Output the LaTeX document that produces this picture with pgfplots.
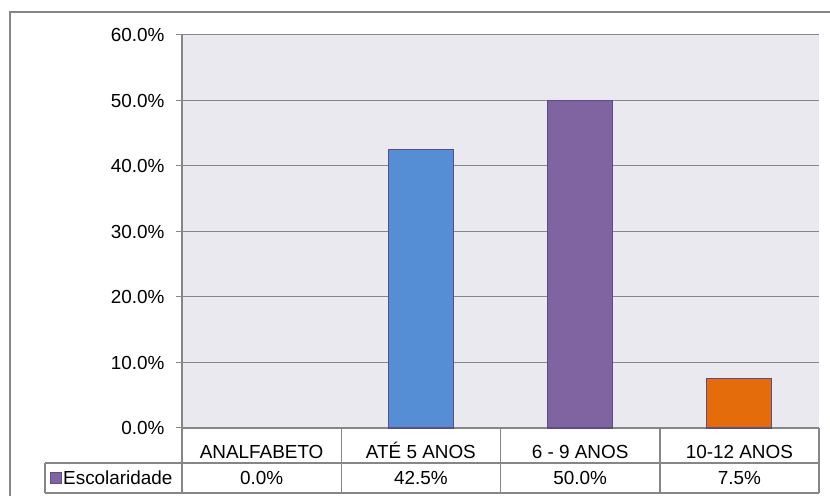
\documentclass[border=0pt]{standalone}
\usepackage{pgfplots}
\pgfplotsset{compat=1.18}
\usepackage{fontspec}
\setmainfont{Liberation Sans}
\definecolor{bg}{RGB}{235,233,240}
\definecolor{gridc}{RGB}{134,134,134}
\definecolor{cblue}{RGB}{85,142,213}
\definecolor{cpurp}{RGB}{128,100,162}
\definecolor{corange}{RGB}{228,108,10}
\definecolor{edge}{RGB}{94,76,138}
\begin{document}
\begin{tikzpicture}[font=\fontsize{18.9bp}{22bp}\selectfont]
\useasboundingbox (0,0) rectangle (830bp,496bp);
\begin{axis}[
  at={(182bp,68bp)}, anchor=south west,
  scale only axis, width=637bp, height=393bp,
  xmin=-0.5, xmax=3.5, ymin=0, ymax=60,
  axis background/.style={fill=bg},
  axis x line*=bottom, axis y line*=left,
  axis line style={gridc, line width=1.5bp, -},
  ytick={0,10,...,60},
  ymajorgrids, grid style={gridc, line width=1bp},
  /pgf/number format/assume math mode=true,
  yticklabel={\pgfmathprintnumber[fixed,fixed zerofill,precision=1]{\tick}\%},
  tick align=outside, major tick length=6bp,
  ytick style={gridc, line width=1bp},
  xtick={0,1,2,3},
  xticklabels={ANALFABETO,ATÉ 5 ANOS,6 - 9 ANOS,10-12 ANOS},
  xtick style={draw=none},
  xticklabel style={anchor=base, yshift=-24bp},
  yticklabel style={xshift=-8bp},
  ybar, bar width=65bp,
  clip=false,
]
\addplot[bar shift=0pt, draw=none, fill=none] coordinates {(0,0)};
\addplot[bar shift=0pt, fill=cblue, draw=edge, line width=1.2bp] coordinates {(1,42.5)};
\addplot[bar shift=0pt, fill=cpurp, draw=edge, line width=1.2bp] coordinates {(2,50.0)};
\addplot[bar shift=0pt, fill=corange, draw=edge, line width=1.2bp] coordinates {(3,7.5)};
\node[anchor=base] at (axis cs:0,0) [yshift=-56.5bp] {0.0\%};
\node[anchor=base] at (axis cs:1,0) [yshift=-56.5bp] {42.5\%};
\node[anchor=base] at (axis cs:2,0) [yshift=-56.5bp] {50.0\%};
\node[anchor=base] at (axis cs:3,0) [yshift=-56.5bp] {7.5\%};
\end{axis}
\begin{scope}[gridc, line width=1.5bp]
\draw (45bp,33bp) -- (819bp,33bp);
\draw (45bp,3bp) -- (819bp,3bp);
\draw (45bp,33bp) -- (45bp,3bp);
\draw (182bp,68bp) -- (182bp,3bp);
\draw (341.25bp,68bp) -- (341.25bp,3bp);
\draw (500.5bp,68bp) -- (500.5bp,3bp);
\draw (659.75bp,68bp) -- (659.75bp,3bp);
\draw (819bp,68bp) -- (819bp,3bp);
\draw (10bp,-2bp) -- (10bp,484bp) -- (832bp,484bp);
\end{scope}
\fill[cpurp, draw=edge, line width=1bp] (50bp,12bp) rectangle (61bp,23bp);
\node[anchor=base west, inner sep=1bp] at (62bp,11.5bp) {Escolaridade};
\end{tikzpicture}
\end{document}
